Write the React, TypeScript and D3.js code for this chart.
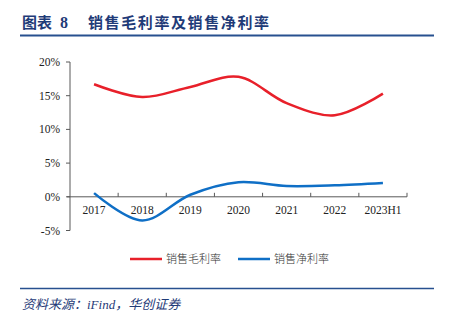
import React from "react";
import * as d3 from "d3";

const categories = ["2017", "2018", "2019", "2020", "2021", "2022", "2023H1"];
const grossMargin = [16.7, 14.8, 16.3, 17.8, 13.9, 12.1, 15.3];
const netMargin = [0.55, -3.5, 0.3, 2.15, 1.6, 1.7, 2.05];
const yTicks = [-5, 0, 5, 10, 15, 20];
const seriesNames = ["销售毛利率", "销售净利率"];

const W = 450;
const H = 325;
const left = 70;
const right = 407;
const top = 62;
const bottom = 230.5;

export default function App() {
  const x = d3.scaleBand<string>().domain(categories).range([left, right]);
  const y = d3.scaleLinear().domain([-5, 20]).range([bottom, top]);
  const cx = (c: string) => (x(c) as number) + x.bandwidth() / 2;

  const line = d3
    .line<number>()
    .x((_, i) => cx(categories[i]))
    .y((d) => y(d))
    .curve(d3.curveCatmullRom.alpha(0.5));

  const titleColor = "#1f3b78";
  const ruleColor = "#27508f";
  const axisColor = "#595959";
  const red = "#e8202a";
  const blue = "#0f6fc6";

  return (
    <svg
      width={W}
      height={H}
      style={{ position: "absolute", left: 0, top: 0 }}
      fontFamily="'Liberation Serif', serif"
    >
      <rect width={W} height={H} fill="#fff" />
      <text
        x={22}
        y={28}
        fontSize={15}
        fontWeight="bold"
        fill={titleColor}
        fontFamily="'Noto Sans CJK SC', sans-serif"
      >
        图表
      </text>
      <text x={60} y={28} fontSize={16} fontWeight="bold" fill={titleColor}>
        8
      </text>
      <text
        x={88}
        y={28}
        fontSize={15}
        fontWeight="bold"
        fill={titleColor}
        fontFamily="'Noto Sans CJK SC', sans-serif"
        letterSpacing={1.6}
      >
        销售毛利率及销售净利率
      </text>
      <line x1={20} x2={434} y1={35.5} y2={35.5} stroke={ruleColor} strokeWidth={2} />

      {/* y axis */}
      <line x1={left} x2={left} y1={top} y2={bottom} stroke={axisColor} strokeWidth={1} />
      {yTicks.map((t) => (
        <g key={t}>
          <line x1={left - 4} x2={left} y1={y(t)} y2={y(t)} stroke={axisColor} />
          <text
            x={left - 10}
            y={y(t)}
            dy="0.35em"
            textAnchor="end"
            fontSize={11.5}
            fill="#222"
          >
            {t}%
          </text>
        </g>
      ))}

      {/* x axis */}
      <line x1={left - 3} x2={right} y1={y(0)} y2={y(0)} stroke={axisColor} strokeWidth={1} />
      {categories.map((c) => (
        <g key={c}>
          <line
            x1={(x(c) as number) + x.bandwidth()}
            x2={(x(c) as number) + x.bandwidth()}
            y1={y(0)}
            y2={y(0) - 4}
            stroke={axisColor}
          />
          <text x={cx(c)} y={y(0) + 17} textAnchor="middle" fontSize={11.5} fill="#222">
            {c}
          </text>
        </g>
      ))}

      <path d={line(grossMargin) || ""} fill="none" stroke={red} strokeWidth={2.5} />
      <path d={line(netMargin) || ""} fill="none" stroke={blue} strokeWidth={2.5} />

      {/* legend */}
      <line x1={130} x2={162} y1={259} y2={259} stroke={red} strokeWidth={2.5} />
      <text
        x={166}
        y={259}
        dy="0.35em"
        fontSize={11}
        fill="#333"
        fontFamily="'Noto Sans CJK SC', sans-serif"
        fontWeight={300}
      >
        {seriesNames[0]}
      </text>
      <line x1={238} x2={270} y1={259} y2={259} stroke={blue} strokeWidth={2.5} />
      <text
        x={274}
        y={259}
        dy="0.35em"
        fontSize={11}
        fill="#333"
        fontFamily="'Noto Sans CJK SC', sans-serif"
        fontWeight={300}
      >
        {seriesNames[1]}
      </text>

      <line x1={20} x2={434} y1={288.5} y2={288.5} stroke={ruleColor} strokeWidth={1.5} />
      <text
        x={22}
        y={309}
        fontSize={13}
        fontStyle="italic"
        fill={titleColor}
        fontFamily="'Liberation Serif', 'Noto Sans CJK SC', serif"
      >
        资料来源：iFind，华创证券
      </text>
    </svg>
  );
}
